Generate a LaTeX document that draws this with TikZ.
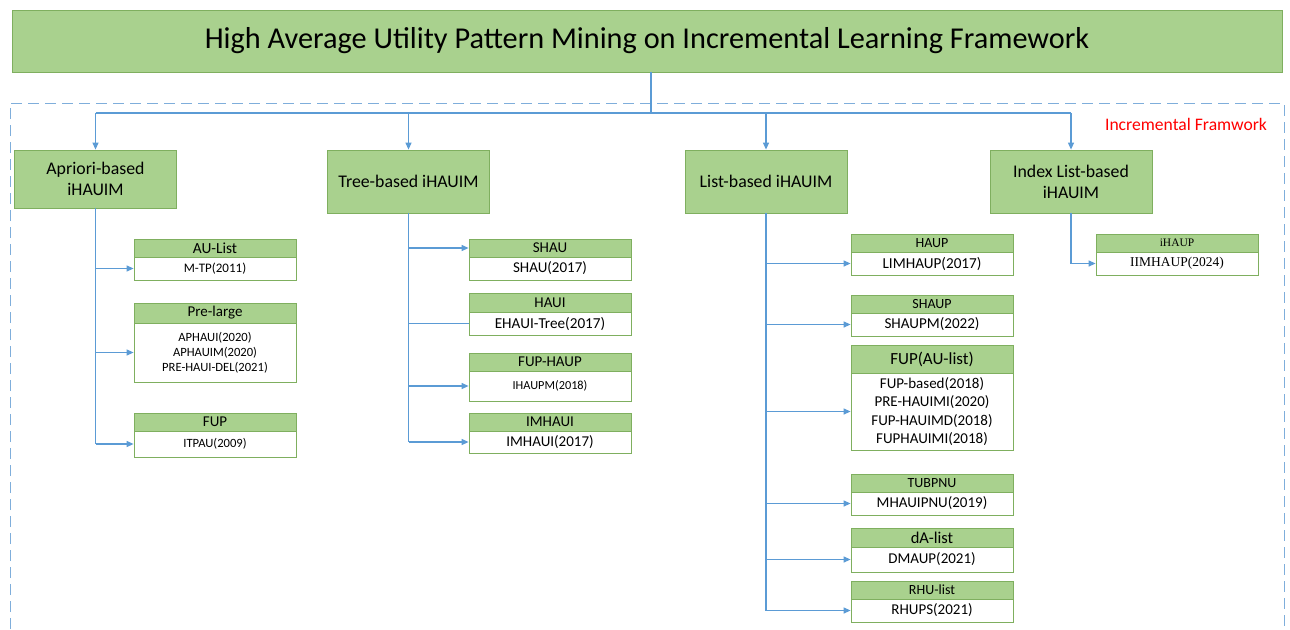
\documentclass[tikz,border=0pt]{standalone}
\usepackage{fontspec}
\setmainfont{Carlito}
\newfontfamily\serifft{Liberation Serif}
\usetikzlibrary{arrows.meta}
\definecolor{hgreen}{HTML}{A9D18E}
\definecolor{bgreen}{HTML}{7FAF5F}
\definecolor{cblue}{HTML}{5B9BD5}
\definecolor{fblue}{HTML}{7FAEDB}
\tikzset{
  gbox/.style={draw=bgreen, fill=hgreen, line width=0.8pt, inner sep=0pt, align=center, minimum width=162pt},
  wbox/.style={draw=bgreen, fill=white, line width=0.8pt, inner sep=0pt, align=center, minimum width=162pt},
  conn/.style={draw=cblue, line width=1.2pt},
  arr/.style={conn, -{Triangle[length=7pt,width=6pt]}},
  midf/.style={font=\fontsize{17.8}{21}\selectfont},
}
\begin{document}
\begin{tikzpicture}[x=1pt,y=-1pt]
\useasboundingbox (0,0) rectangle (1290,629);
% frame
\draw[fblue, line width=1pt, dash pattern=on 11pt off 6pt] (10,629) -- (10,103) -- (1284,103) -- (1284,629);
\node[text=red, font=\fontsize{17.6}{20}\selectfont] (lbl) at (1186,124) {Incremental Framwork};
% top
\node[gbox, minimum width=1270pt, minimum height=62pt, font=\fontsize{30.3}{36}\selectfont] (top) at (647,41) {High Average Utility Pattern Mining on Incremental Learning Framework};
% level 2
\node[gbox, minimum height=58pt, midf] (apr) at (95.5,179) {Apriori-based\\iHAUIM};
\node[gbox, minimum height=63pt, midf] (tree) at (408.5,181.5) {Tree-based iHAUIM};
\node[gbox, minimum height=63pt, midf] (list) at (766,181.5) {List-based iHAUIM};
\node[gbox, minimum height=63pt, midf] (idx) at (1071,181.5) {Index List-based\\iHAUIM};
% connectors top
\coordinate (j) at (651,113);
\draw[conn] (j |- top.south) -- (j);
\draw[conn] (apr.north |- j) -- (idx.north |- j);
\draw[arr] (apr.north |- j) -- (apr.north);
\draw[arr] (tree.north |- j) -- (tree.north);
\draw[arr] (list.north |- j) -- (list.north);
\draw[arr] (idx.north |- j) -- (idx.north);
% Apriori leaves
\node[gbox, minimum height=18pt, font=\fontsize{15.4}{17}\selectfont] (a1h) at (215,248) {AU-List};
\node[wbox, minimum height=23pt, font=\fontsize{13}{15}\selectfont] (a1b) at (215,268.5) {M-TP(2011)};
\node[gbox, minimum height=20pt, font=\fontsize{15}{17}\selectfont] (a2h) at (215,313) {Pre-large};
\node[wbox, minimum height=59pt, font=\fontsize{12.6}{15}\selectfont] (a2b) at (215,352.5) {APHAUI(2020)\\APHAUIM(2020)\\PRE-HAUI-DEL(2021)};
\node[gbox, minimum height=18pt, font=\fontsize{15}{17}\selectfont] (a3h) at (215,422) {FUP};
\node[wbox, minimum height=26pt, font=\fontsize{12.6}{15}\selectfont] (a3b) at (215,444) {ITPAU(2009)};
\draw[conn] (apr.south) -- (apr.south |- a3b.west);
\draw[arr] (apr.south |- a1b.west) -- (a1b.west);
\draw[arr] (apr.south |- a2b.west) -- (a2b.west);
\draw[arr] (apr.south |- a3b.west) -- (a3b.west);
% Tree leaves
\node[gbox, minimum height=18pt, font=\fontsize{15}{17}\selectfont] (t1h) at (550,248) {SHAU};
\node[wbox, minimum height=23pt, font=\fontsize{15}{17}\selectfont] (t1b) at (550,268.5) {SHAU(2017)};
\node[gbox, minimum height=19pt, font=\fontsize{15}{17}\selectfont] (t2h) at (550,302.5) {HAUI};
\node[wbox, minimum height=23pt, font=\fontsize{15.2}{17}\selectfont] (t2b) at (550,323.5) {EHAUI-Tree(2017)};
\node[gbox, minimum height=18pt, font=\fontsize{15}{17}\selectfont] (t3h) at (550,362) {FUP-HAUP};
\node[wbox, minimum height=30pt, font=\fontsize{12.3}{15}\selectfont] (t3b) at (550,386) {IHAUPM(2018)};
\node[gbox, minimum height=18pt, font=\fontsize{15}{17}\selectfont] (t4h) at (550,422) {IMHAUI};
\node[wbox, minimum height=22pt, font=\fontsize{15}{17}\selectfont] (t4b) at (550,442) {IMHAUI(2017)};
\draw[conn] (tree.south) -- (tree.south |- t4b.west);
\draw[arr] (tree.south |- t1h.west) -- (t1h.west);
\draw[conn] (tree.south |- t2b.west) -- (t2b.west);
\draw[arr] (tree.south |- t3b.west) -- (t3b.west);
\draw[arr] (tree.south |- t4b.west) -- (t4b.west);
% List leaves
\node[gbox, minimum height=18pt, font=\fontsize{14}{16}\selectfont] (l1h) at (932,243) {HAUP};
\node[wbox, minimum height=23pt, font=\fontsize{15.2}{17}\selectfont] (l1b) at (932,263.5) {LIMHAUP(2017)};
\node[gbox, minimum height=18pt, font=\fontsize{14}{16}\selectfont] (l2h) at (932,304) {SHAUP};
\node[wbox, minimum height=23pt, font=\fontsize{15.1}{17}\selectfont] (l2b) at (932,324.5) {SHAUPM(2022)};
\node[gbox, minimum height=28pt, font=\fontsize{17}{20}\selectfont] (l3h) at (932,359) {FUP(AU-list)};
\node[wbox, minimum height=77pt, font=\fontsize{15}{18.3}\selectfont] (l3b) at (932,411.5) {FUP-based(2018)\\PRE-HAUIMI(2020)\\FUP-HAUIMD(2018)\\FUPHAUIMI(2018)};
\node[gbox, minimum height=18pt, font=\fontsize{14}{16}\selectfont] (l4h) at (932,483) {TUBPNU};
\node[wbox, minimum height=23pt, font=\fontsize{15}{17}\selectfont] (l4b) at (932,503.5) {MHAUIPNU(2019)};
\node[gbox, minimum height=19pt, font=\fontsize{16.5}{19}\selectfont] (l5h) at (932,537.5) {dA-list};
\node[wbox, minimum height=25pt, font=\fontsize{15}{17}\selectfont] (l5b) at (932,559.5) {DMAUP(2021)};
\node[gbox, minimum height=18pt, font=\fontsize{14}{16}\selectfont] (l6h) at (932,590) {RHU-list};
\node[wbox, minimum height=23pt, font=\fontsize{15}{17}\selectfont] (l6b) at (932,610.5) {RHUPS(2021)};
\draw[conn] (list.south) -- (list.south |- l6b.west);
\draw[arr] (list.south |- l1b.west) -- (l1b.west);
\draw[arr] (list.south |- l2b.west) -- (l2b.west);
\draw[arr] (list.south |- l3b.west) -- (l3b.west);
\draw[arr] (list.south |- l4b.west) -- (l4b.west);
\draw[arr] (list.south |- l5b.west) -- (l5b.west);
\draw[arr] (list.south |- l6b.west) -- (l6b.west);
% Index leaves
\node[gbox, minimum height=18pt, font=\serifft\fontsize{11.5}{14}\selectfont] (i1h) at (1177,243) {iHAUP};
\node[wbox, minimum height=23pt, font=\serifft\fontsize{13.5}{16}\selectfont] (i1b) at (1177,263.5) {IIMHAUP(2024)};
\draw[arr] (idx.south) |- (i1b.west);
\end{tikzpicture}
\end{document}
